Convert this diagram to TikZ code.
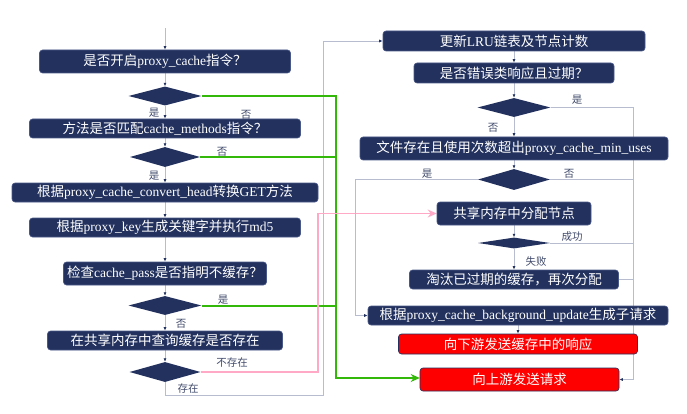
\documentclass[tikz,border=0pt]{standalone}
\usepackage{fontspec}
\setmainfont{Liberation Serif}
\newfontfamily\cjk{Noto Sans CJK SC}
\usetikzlibrary{arrows.meta,shapes.geometric,backgrounds}
\definecolor{flowNavy}{HTML}{22315E}
\definecolor{flowEdge}{HTML}{4A5888}
\definecolor{flowLine}{HTML}{B7BCCE}
\definecolor{flowGreen}{HTML}{33B80A}
\definecolor{flowPink}{HTML}{FFA9C6}
\definecolor{flowRed}{HTML}{FF0000}
\definecolor{flowLabel}{HTML}{414A6B}
\newcommand{\zh}[1]{{\cjk #1}}
\tikzset{
  procbox/.style={rectangle, rounded corners=3pt, fill=flowNavy, draw=flowEdge, line width=0.6pt,
    text=white, inner sep=0pt, minimum height=19pt, font=\fontsize{13.5}{14}\selectfont},
  sendbox/.style={procbox, fill=flowRed, draw=flowNavy},
  decide/.style={diamond, fill=flowNavy, inner sep=0pt, minimum width=72pt, minimum height=19pt},
  tag/.style={text=flowLabel, font=\cjk\fontsize{10.5}{11}\selectfont, inner sep=0pt},
  flow/.style={draw=flowLine, line width=0.8pt, -{Latex[length=3.5pt,width=3pt,color=flowNavy]}},
  link/.style={draw=flowLine, line width=0.8pt},
  yesline/.style={draw=flowGreen, line width=2pt, -{Stealth[length=9pt,width=8pt]}},
  missline/.style={draw=flowPink, line width=1.6pt, -{Stealth[length=9pt,width=8pt]}},
}
\begin{document}
\begin{tikzpicture}[x=1pt,y=-1pt]
  \useasboundingbox (0,0) rectangle (687,414);
  % left column
  \coordinate (start) at (165,28);
  \node[procbox, minimum width=251pt, minimum height=23pt] (b1) at (165,61.5) {\zh{是否开启}proxy\_cache\zh{指令？}};
  \node[decide, minimum width=73pt] (d1) at (165,96) {};
  \node[procbox, minimum width=271pt] (b2) at (165,128.5) {\zh{方法是否匹配}cache\_methods\zh{指令？}};
  \node[decide, minimum width=70pt, minimum height=20pt] (d2) at (165,157) {};
  \node[procbox, minimum width=306pt] (b3) at (165,192.5) {\zh{根据}proxy\_cache\_convert\_head\zh{转换}GET\zh{方法}};
  \node[procbox, minimum width=271pt] (b4) at (165,227.5) {\zh{根据}proxy\_key\zh{生成关键字并执行}md5};
  \node[procbox, minimum width=203pt, minimum height=23pt] (b5) at (165,273.5) {\zh{检查}cache\_pass\zh{是否指明不缓存？}};
  \node[decide, minimum width=73pt] (d3) at (165,305.5) {};
  \node[procbox, minimum width=235pt] (b6) at (165,340.5) {\zh{在共享内存中查询缓存是否存在}};
  \node[decide, minimum width=71pt, minimum height=20pt] (d4) at (165,372) {};
  % right column
  \node[procbox, minimum width=262pt, minimum height=20pt] (r1) at (514,41) {\zh{更新}LRU\zh{链表及节点计数}};
  \node[procbox, minimum width=200pt, minimum height=20pt] (r2) at (514,73) {\zh{是否错误类响应且过期？}};
  \node[decide, minimum width=73pt] (dr1) at (514,107.5) {};
  \node[procbox, minimum width=308pt, minimum height=23pt] (r3) at (514,148.5) {\zh{文件存在且使用次数超出}proxy\_cache\_min\_uses};
  \node[decide, minimum height=21pt] (dr2) at (514,179.5) {};
  \node[procbox, minimum width=154pt, minimum height=23pt] (r4) at (514,213.5) {\zh{共享内存中分配节点}};
  \node[decide, minimum height=11pt] (dr3) at (514,243) {};
  \node[procbox, minimum width=209pt] (r5) at (514,279.5) {\zh{淘汰已过期的缓存，再次分配}};
  \node[procbox, minimum width=300pt] (r6) at (518,315.5) {\zh{根据}proxy\_cache\_background\_update\zh{生成子请求}};
  \node[sendbox, minimum width=239pt, minimum height=20pt] (r7) at (518,344) {\zh{向下游发送缓存中的响应}};
  \node[sendbox, minimum width=199pt, minimum height=23pt] (r8) at (519.5,379.5) {\zh{向上游发送请求}};
  % branch labels
  \node[tag] (y1) at (154,113) {是};
  \node[tag] (n1) at (246,115) {否};
  \node[tag] (n2) at (222,152) {否};
  \node[tag] (y2) at (154,176) {是};
  \node[tag] (y3) at (223,300) {是};
  \node[tag] (n3) at (181,324) {否};
  \node[tag] (n4) at (232,363) {不存在};
  \node[tag] (y4) at (188,389) {存在};
  \node[tag] (y5) at (577,100) {是};
  \node[tag] (n5) at (493,128) {否};
  \node[tag] (y6) at (427,174) {是};
  \node[tag] (n6) at (569,174) {否};
  \node[tag] (y7) at (572,237) {成功};
  \node[tag] (n7) at (536,262) {失败};
  % connectors
  \coordinate (hitturn) at (323,395);
  \coordinate (bypass) at (336,378);
  \coordinate (misscol) at (318,0);
  \coordinate (rightcol) at (633,0);
  \coordinate (leftcol) at (355,0);
  \begin{pgfonlayer}{background}
    \draw[flow] (start) -- (b1);
    \draw[flow] (b1) -- (d1);
    \draw[flow] (d1) -- (b2);
    \draw[flow] (b2) -- (d2);
    \draw[flow] (d2) -- (b3);
    \draw[flow] (b3) -- (b4);
    \draw[flow] (b4) -- (b5);
    \draw[flow] (b5) -- (d3);
    \draw[flow] (d3) -- (b6);
    \draw[flow] (b6) -- (d4);
    \draw[flow] (d4.south) |- (hitturn) |- (r1.west);
    \draw[yesline] (d1.east) -| (bypass) -- (r8.west |- bypass);
    \draw[draw=flowGreen, line width=2pt] (d2.east) -- (d2.east -| bypass);
    \draw[draw=flowGreen, line width=2pt] (d3.east) -- (d3.east -| bypass);
    \draw[missline] (d4.east) -- (d4.east -| misscol) |- (r4.west);
    \draw[flow] (r1) -- (r2);
    \draw[flow] (r2) -- (dr1);
    \draw[flow] (dr1) -- (r3);
    \draw[flow] (dr1.east) -| (rightcol |- r8) -- (r8.east);
    \draw[flow] (r3) -- (dr2);
    \draw[link] (dr2.east) -- (dr2.east -| rightcol);
    \draw[flow] (dr2.west) -- (dr2.west -| leftcol) |- (r6.west);
    \draw[flow] (r4) -- (dr3);
    \draw[flow] (dr3) -- (r5);
    \draw[link] (dr3.east) -- (dr3.east -| rightcol);
    \draw[link] (r5.east) -- (r5.east -| rightcol);
    \draw[flow] (r6.south) -- (r7.north);
  \end{pgfonlayer}
\end{tikzpicture}
\end{document}
